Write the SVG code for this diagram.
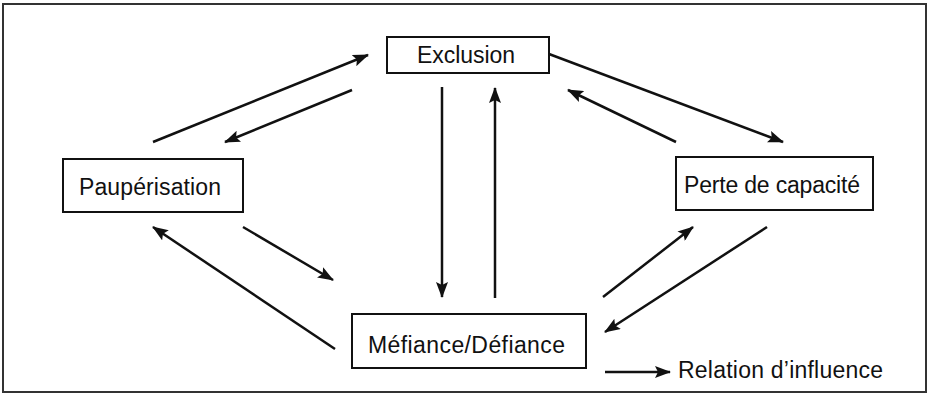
<svg xmlns="http://www.w3.org/2000/svg" width="929" height="394" viewBox="0 0 929 394">
<style>
.frame{fill:none;stroke:#333;stroke-width:2}
.box{fill:#fff;stroke:#111;stroke-width:2}
.lbl{font-family:"Liberation Sans",Arial,sans-serif;font-size:23px;fill:#111}
.conn{stroke:#111;stroke-width:2.5;fill:none;marker-end:url(#ah)}
</style>
<defs>
<marker id="ah" viewBox="0 0 16 12" refX="15" refY="6" markerWidth="16" markerHeight="12" markerUnits="userSpaceOnUse" orient="auto">
<path d="M0,0 L16,6 L0,12 L3,6 z" fill="#111"/>
</marker>
</defs>
<rect class="frame" x="3" y="4" width="923" height="388"/>
<g id="connectors">
<line class="conn" x1="153" y1="142" x2="368" y2="55"/>
<line class="conn" x1="352" y1="90" x2="225" y2="142"/>
<line class="conn" x1="442" y1="87" x2="442" y2="297"/>
<line class="conn" x1="495" y1="298" x2="495" y2="88"/>
<line class="conn" x1="549" y1="54" x2="783" y2="142"/>
<line class="conn" x1="676" y1="142" x2="568" y2="90"/>
<line class="conn" x1="243" y1="227" x2="333" y2="280"/>
<line class="conn" x1="335" y1="349" x2="153" y2="227"/>
<line class="conn" x1="603" y1="297" x2="693" y2="227"/>
<line class="conn" x1="767" y1="227" x2="605" y2="332"/>
</g>
<g id="exclusion">
<rect class="box" x="387" y="37" width="162" height="36"/>
<text class="lbl" x="417" y="63" textLength="98" lengthAdjust="spacing">Exclusion</text>
</g>
<g id="pauperisation">
<rect class="box" x="63" y="159" width="180" height="53"/>
<text class="lbl" x="79" y="195" textLength="142" lengthAdjust="spacing">Paupérisation</text>
</g>
<g id="perte">
<rect class="box" x="676" y="157" width="197" height="53"/>
<text class="lbl" x="684" y="193" textLength="176" lengthAdjust="spacing">Perte de capacité</text>
</g>
<g id="mefiance">
<rect class="box" x="352" y="314" width="234" height="54"/>
<text class="lbl" x="368" y="353" textLength="197" lengthAdjust="spacing">Méfiance/Défiance</text>
</g>
<g id="legend">
<line class="conn" x1="605" y1="372" x2="670" y2="372"/>
<text class="lbl" x="678" y="378" textLength="205" lengthAdjust="spacing">Relation d’influence</text>
</g>
</svg>
